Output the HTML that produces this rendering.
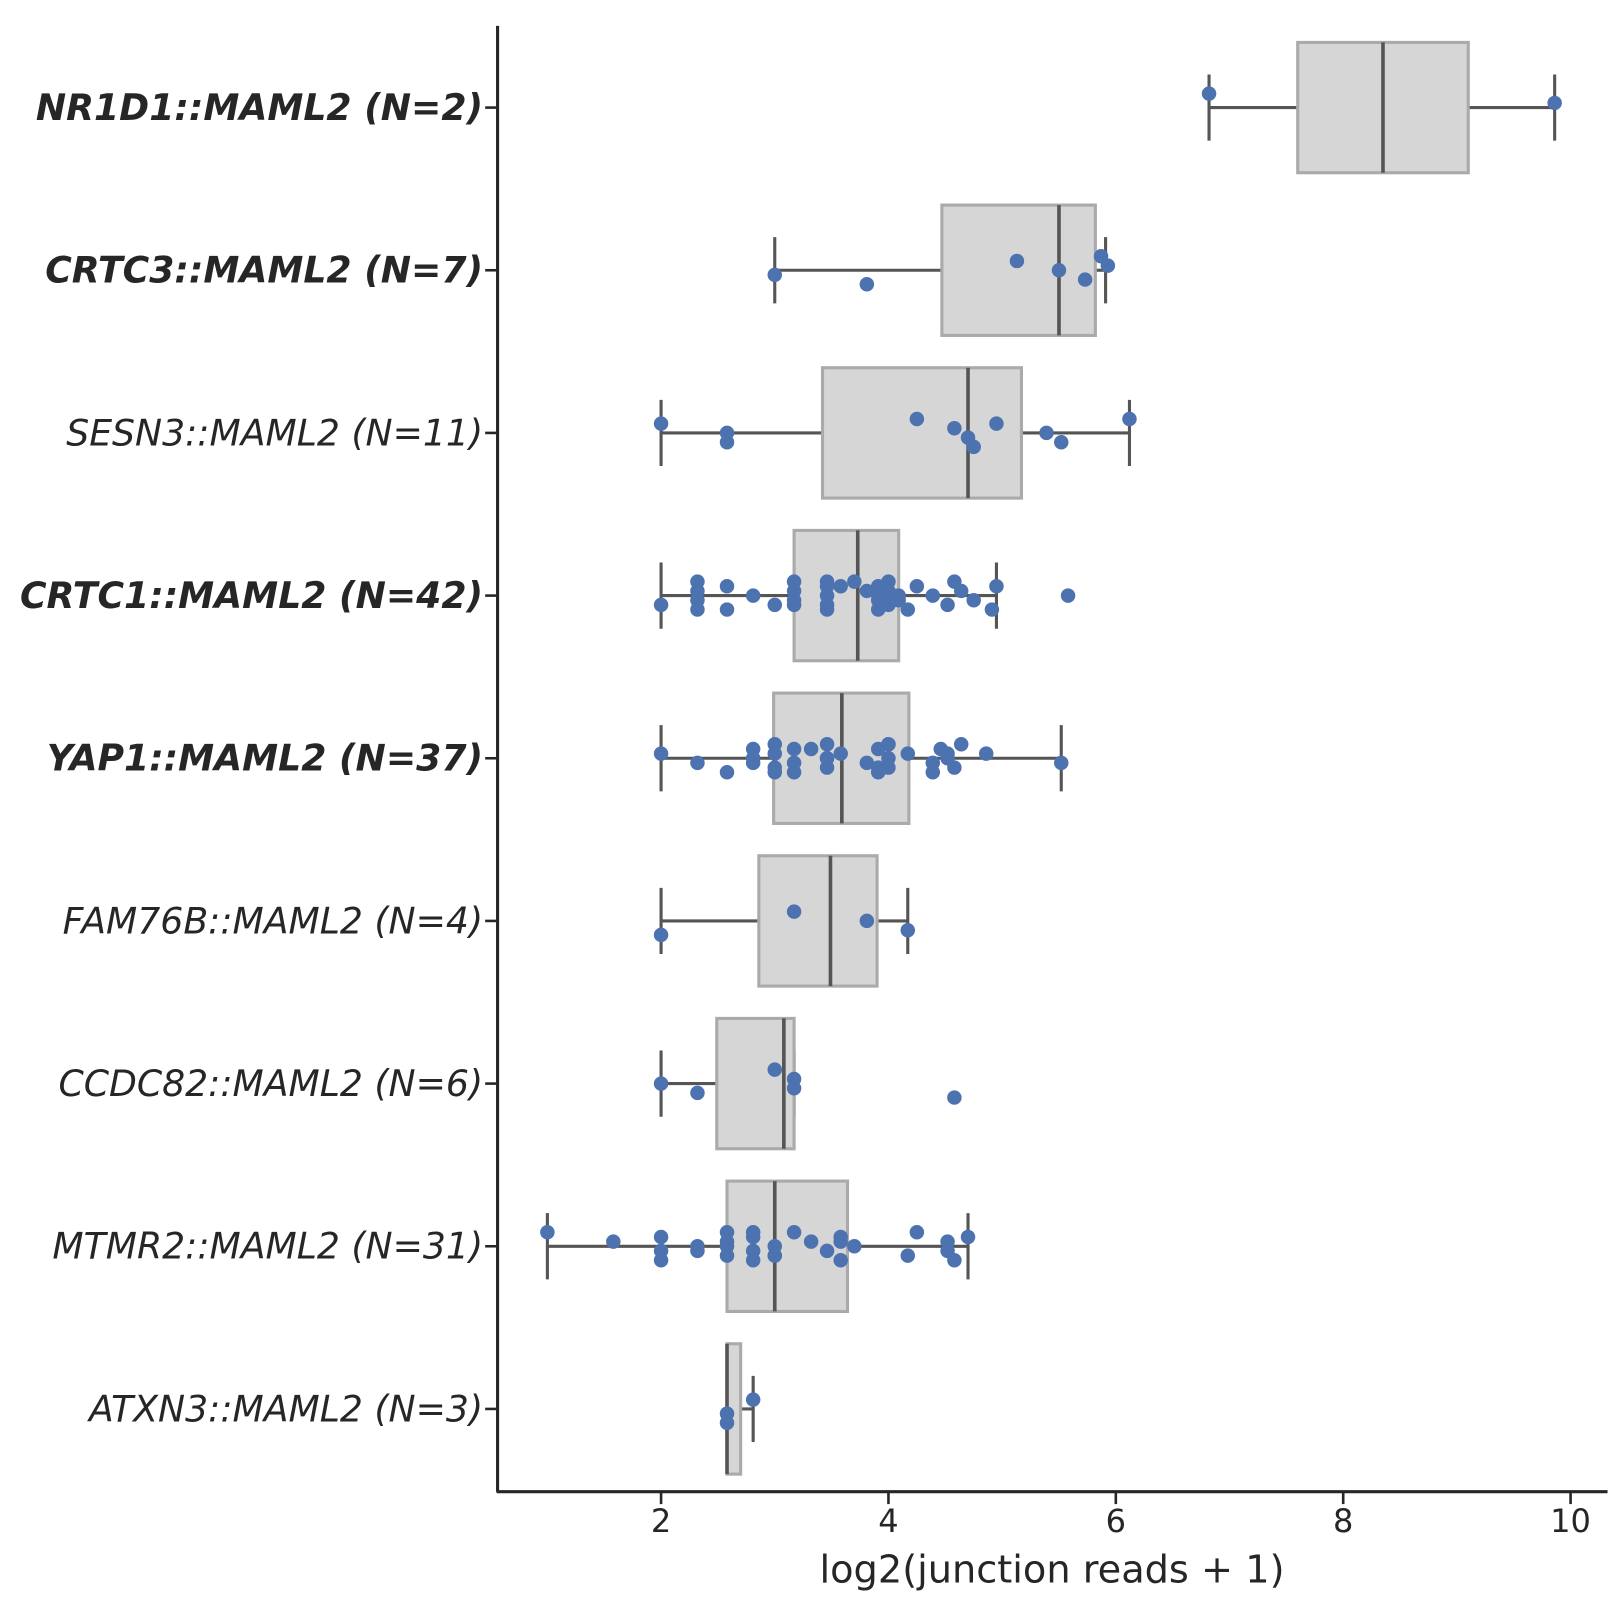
<!DOCTYPE html>
<html><head><meta charset="utf-8"><style>
html,body{margin:0;padding:0;background:#fff;}
svg{display:block;font-family:"DejaVu Sans","Liberation Sans",sans-serif;}
</style></head><body>
<svg id="chart" width="1621" height="1609" viewBox="0 0 1567 1555.4" xmlns="http://www.w3.org/2000/svg"></svg>
<script>
const categories = ["NR1D1::MAML2 (N=2)","CRTC3::MAML2 (N=7)","SESN3::MAML2 (N=11)","CRTC1::MAML2 (N=42)","YAP1::MAML2 (N=37)","FAM76B::MAML2 (N=4)","CCDC82::MAML2 (N=6)","MTMR2::MAML2 (N=31)","ATXN3::MAML2 (N=3)"];
const boldCats = [true,true,false,true,true,false,false,false,false];
const q1 = [7.6,4.47,3.42,3.17,2.99,2.86,2.49,2.58,2.58];
const q3 = [9.1,5.82,5.17,4.09,4.18,3.9,3.17,3.64,2.7];
const medians = [8.35,5.5,4.7,3.73,3.59,3.49,3.08,3.0,2.58];
const whiskLo = [6.82,3.0,2.0,2.0,2.0,2.0,2.0,1.0,2.58];
const whiskHi = [9.86,5.91,6.12,4.95,5.52,4.17,3.17,4.7,2.81];
const points = [
 [6.82,9.86],
 [3.0,3.81,5.13,5.5,5.73,5.87,5.93],
 [2,2.58,2.58,4.25,4.58,4.7,4.75,4.95,5.39,5.52,6.12],
 [2,2.32,2.32,2.32,2.58,2.58,2.81,3.0,3.17,3.17,3.17,3.46,3.46,3.46,3.46,3.7,3.81,3.91,3.91,3.91,3.91,4.0,4.0,4.0,4.09,4.17,4.25,4.39,4.52,4.58,4.64,4.75,4.91,4.95,5.58,3.17,3.46,3.91,4.0,2.32,3.58,4.09],
 [2,2.32,2.58,2.81,2.81,3.0,3.0,3.0,3.17,3.17,3.32,3.46,3.46,3.46,3.58,3.81,3.91,3.91,4.0,4.0,4.0,4.17,4.39,4.39,4.46,4.52,4.58,4.64,4.86,5.52,3.0,3.17,3.46,3.91,4.0,4.52,2.81],
 [2,3.17,3.81,4.17],
 [2,2.32,3.0,3.17,3.17,4.58],
 [1,1.58,2,2,2,2.32,2.58,2.58,2.58,2.81,2.81,2.81,3.0,3.0,3.17,3.32,3.46,3.58,3.58,3.7,4.17,4.25,4.52,4.52,4.58,4.7,2.58,3.0,2.81,3.58,2.32],
 [2.58,2.58,2.81]
];
const xTicks = [2,4,6,8,10];

const svg = document.getElementById('chart');
const NS = "http://www.w3.org/2000/svg";
const xPx = v => 419.25 + v*109.9;
const yPx = i => 104 + i*157.25;
function mk(tag, attrs){ const e=document.createElementNS(NS,tag); for(const k in attrs) e.setAttribute(k,attrs[k]); svg.appendChild(e); return e; }

let ax = mk('line',{x1:481,y1:25,x2:481,y2:1442,stroke:'#262626','stroke-width':3});
 
ax = mk('line',{x1:480,y1:1442,x2:1554,y2:1442,stroke:'#262626','stroke-width':3});
 

xTicks.forEach(t=>{
  const tk = mk('line',{x1:xPx(t),y1:1442,x2:xPx(t),y2:1454,stroke:'#262626','stroke-width':2.5});
   
  const tl = mk('text',{x:xPx(t),y:1481,'text-anchor':'middle','font-size':31,fill:'#262626'});
  tl.textContent = t;
   
});
const xt = mk('text',{x:1017,y:1530,'text-anchor':'middle','font-size':37,fill:'#262626'});
xt.textContent='log2(junction reads + 1)';
 

categories.forEach((c,i)=>{
  const y = yPx(i);
  const tk = mk('line',{x1:469,y1:y,x2:481,y2:y,stroke:'#262626','stroke-width':2.5});
   
  const tl = mk('text',{x:467,y:y+12,'text-anchor':'end','font-size':35,'font-style':'italic','font-weight':boldCats[i]?'bold':'normal',fill:'#262626'});
  tl.textContent = c;
   

  const wl = mk('line',{x1:xPx(whiskLo[i]),y1:y,x2:xPx(q1[i]),y2:y,stroke:'#555','stroke-width':3});
   
  const wh = mk('line',{x1:xPx(q3[i]),y1:y,x2:xPx(whiskHi[i]),y2:y,stroke:'#555','stroke-width':3});
   
  [whiskLo[i],whiskHi[i]].forEach(v=>{
    const cap = mk('line',{x1:xPx(v),y1:y-32,x2:xPx(v),y2:y+32,stroke:'#555','stroke-width':3});
     
  });
  const box = mk('rect',{x:xPx(q1[i]),y:y-63,width:xPx(q3[i])-xPx(q1[i]),height:126,fill:'#d6d6d6',stroke:'#aaaaaa','stroke-width':3});
   
  const md = mk('line',{x1:xPx(medians[i]),y1:y-63,x2:xPx(medians[i]),y2:y+63,stroke:'#555','stroke-width':3.5});
   

  points[i].forEach((v,j)=>{
    const jit = (((j*37+i*11)%7)-3)*4.5;
    const p = mk('circle',{cx:xPx(v),cy:y+jit,r:7,fill:'#4c72b0'});
     
  });
});
</script>
</body></html>
